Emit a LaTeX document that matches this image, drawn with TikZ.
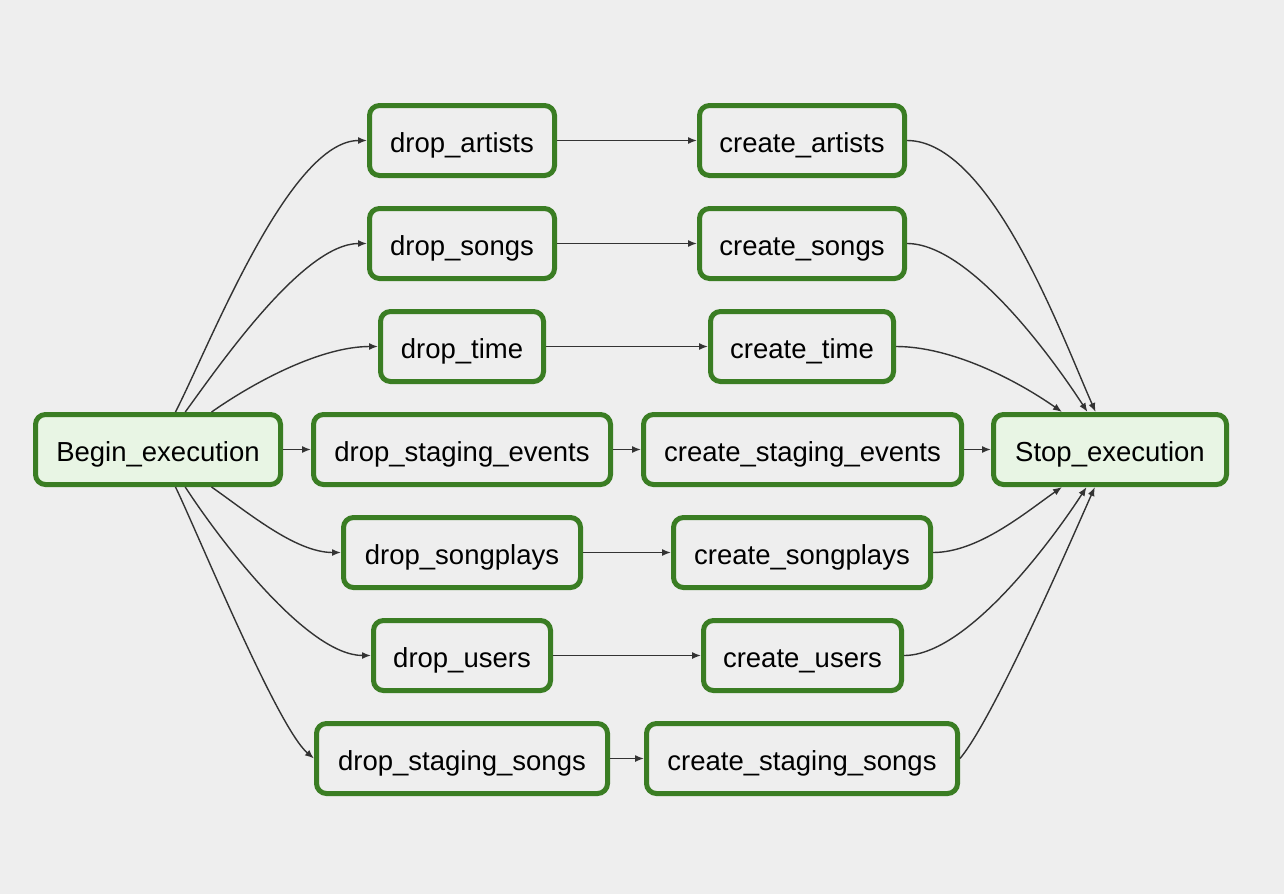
\documentclass[tikz,border=0pt]{standalone}
\usepackage{fontspec}
\setmainfont{Liberation Sans}
\usetikzlibrary{arrows.meta}
\definecolor{bg}{RGB}{238,238,238}
\definecolor{tgreen}{RGB}{58,125,35}
\definecolor{lgreen}{RGB}{232,245,228}
\definecolor{edge}{RGB}{51,51,51}
\tikzset{
  task/.style={draw=tgreen, line width=5pt, rounded corners=10pt, fill=bg,
    minimum height=70pt, inner sep=0pt, text height=24pt, text depth=0pt,
    font=\fontsize{27.5}{33}\selectfont, text=black},
  term/.style={task, fill=lgreen},
  conn/.style={draw=edge, line width=1.4pt, -{Latex[length=9pt,width=7pt]}}
}
\begin{document}
\begin{tikzpicture}[x=1pt,y=-1pt]
\useasboundingbox (0,0) rectangle (1284,894);
\fill[bg] (0,0) rectangle (1284,894);

\node[term, minimum width=245pt] (begin) at (158,449.5) {Begin\_execution};
\node[term, minimum width=233pt] (stop) at (1110,449.5) {Stop\_execution};

\node[task, minimum width=185pt] (da) at (462,140.5) {drop\_artists};
\node[task, minimum width=205pt] (ca) at (802,140.5) {create\_artists};
\node[task, minimum width=185pt] (ds) at (462,243.5) {drop\_songs};
\node[task, minimum width=205pt] (cs) at (802,243.5) {create\_songs};
\node[task, minimum width=163pt] (dt) at (462,346.5) {drop\_time};
\node[task, minimum width=183pt] (ct) at (802,346.5) {create\_time};
\node[task, minimum width=297pt] (de) at (462,449.5) {drop\_staging\_events};
\node[task, minimum width=318pt] (ce) at (802.5,449.5) {create\_staging\_events};
\node[task, minimum width=237pt] (dp) at (462,552.5) {drop\_songplays};
\node[task, minimum width=257pt] (cp) at (802,552.5) {create\_songplays};
\node[task, minimum width=177pt] (du) at (462,655.5) {drop\_users};
\node[task, minimum width=198pt] (cu) at (802.5,655.5) {create\_users};
\node[task, minimum width=291pt] (dg) at (462,758.5) {drop\_staging\_songs};
\node[task, minimum width=311pt] (cg) at (802,758.5) {create\_staging\_songs};

% Begin -> drop
\draw[conn] (begin.65.6) to[out=63,in=180,looseness=0.6] (da.west);
\draw[conn] (begin.54.2) to[out=54,in=180,looseness=0.65] (ds.west);
\draw[conn] (begin.35.8) to[out=35,in=180,looseness=0.8] (dt.west);
\draw[conn] (begin.east) -- (de.west);
\draw[conn] (begin.-35.8) to[out=-35,in=180,looseness=0.8] (dp.west);
\draw[conn] (begin.-54.2) to[out=-57,in=180,looseness=0.65] (du.west);
\draw[conn] (begin.-65.6) to[out=-64,in=140,looseness=0.4] (dg.west);

% drop -> create
\draw[conn] (da.east) -- (ca.west);
\draw[conn] (ds.east) -- (cs.west);
\draw[conn] (dt.east) -- (ct.west);
\draw[conn] (de.east) -- (ce.west);
\draw[conn] (dp.east) -- (cp.west);
\draw[conn] (du.east) -- (cu.west);
\draw[conn] (dg.east) -- (cg.west);

% create -> stop
\draw[conn] (ca.east) to[out=0,in=114,looseness=0.65] (stop.111.8);
\draw[conn] (cs.east) to[out=0,in=123,looseness=0.65] (stop.121.5);
\draw[conn] (ct.east) to[out=0,in=145,looseness=0.8] (stop.142);
\draw[conn] (ce.east) -- (stop.west);
\draw[conn] (cp.east) to[out=0,in=215,looseness=0.8] (stop.218);
\draw[conn] (cu.east) to[out=0,in=237,looseness=0.65] (stop.238.5);
\draw[conn] (cg.east) to[out=50,in=246,looseness=0.45] (stop.248.2);
\end{tikzpicture}
\end{document}
